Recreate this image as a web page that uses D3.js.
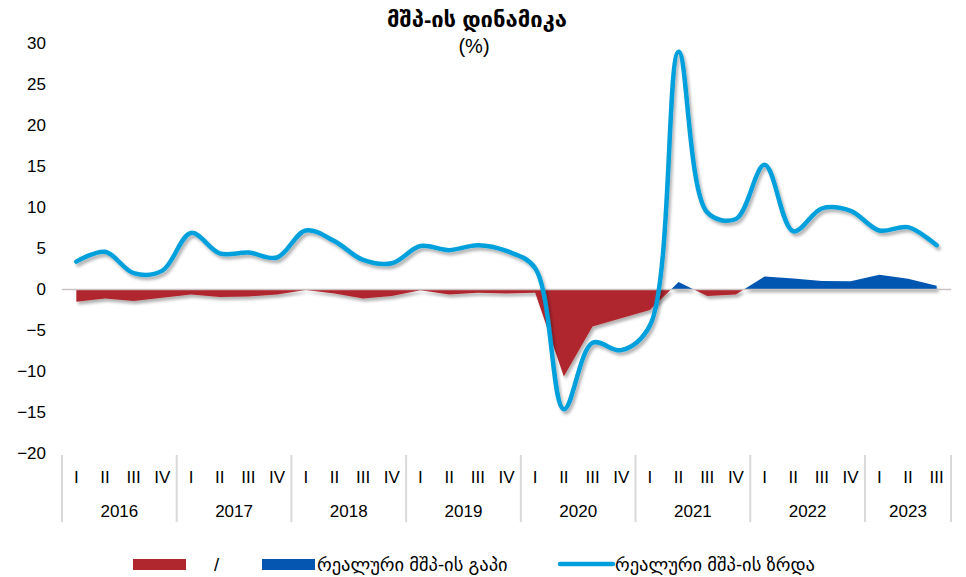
<!DOCTYPE html>
<html>
<head>
<meta charset="utf-8">
<script src="https://cdn.jsdelivr.net/npm/d3@7"></script>
<style>
  body { margin: 0; background: #fff; }
  text { font-family: "Liberation Sans", Arial, "DejaVu Sans", sans-serif; fill: #000; }
</style>
</head>
<body>
<script>
// quarters 2016 I .. 2023 III
const years = [2016, 2017, 2018, 2019, 2020, 2021, 2022, 2023]
const quarterNames = ["I", "II", "III", "IV"]
const yTicks = [-20, -15, -10, -5, 0, 5, 10, 15, 20, 25, 30]

// real GDP growth, %
const growth = [3.4, 4.6, 2.0, 2.3, 6.9, 4.4, 4.5, 3.9,
                7.2, 5.9, 3.6, 3.2, 5.3, 4.8, 5.4, 4.7,
                2.6, -14.6, -6.5, -7.4, -4.4, 29.0, 9.4, 8.6,
                15.2, 7.1, 9.9, 9.6, 7.2, 7.6, 5.4]

// real GDP gap, %
const gap = [-1.5, -1.1, -1.4, -1.0, -0.6, -0.9, -0.85, -0.6,
             -0.05, -0.5, -1.1, -0.8, -0.1, -0.6, -0.4, -0.5,
             -0.4, -10.6, -4.5, -3.5, -2.5, 0.9, -0.8, -0.6,
             1.6, 1.35, 1.05, 1.0, 1.8, 1.3, 0.45]

const legendItems = [
    { label: "/", color: "#b0272d", type: "area" },
    { label: "რეალური მშპ-ის გაპი", color: "#0556b0", type: "area" },
    { label: "რეალური მშპ-ის ზრდა", color: "#00a0dc", type: "line" }
]

const labels = []
years.forEach(function(yr) {
    quarterNames.forEach(function(q) {
        if (labels.length < growth.length) labels.push({ year: yr, q: q })
    })
})

const m = { width: 966, height: 577 }

const svg = d3.select("body").append("svg")
    .attr("width", m.width)
    .attr("height", m.height)

const defs = svg.append("defs")
const shadow = defs.append("filter").attr("id", "shadow")
    .attr("x", "-5%").attr("y", "-5%").attr("width", "110%").attr("height", "120%")
shadow.append("feDropShadow")
    .attr("dx", 2).attr("dy", 3).attr("stdDeviation", 1.8)
    .attr("flood-color", "#000").attr("flood-opacity", 0.3)

const x = d3.scaleBand()
    .domain(d3.range(growth.length))
    .range([62, 951])

const cx = function(i) { return x(i) + x.bandwidth() / 2 }

const y = d3.scaleLinear()
    .domain([-20, 30])
    .range([453.5, 43.5])

// title
svg.append("text")
    .attr("x", 477).attr("y", 27)
    .attr("text-anchor", "middle")
    .style("font-size", "22px").style("font-weight", "bold")
    .text("მშპ-ის დინამიკა")

svg.append("text")
    .attr("x", 474).attr("y", 53)
    .attr("text-anchor", "middle")
    .style("font-size", "20px")
    .text("(%)")

// y axis, labels only
const yAxis = svg.append("g")
    .attr("transform", "translate(46,0)")
    .call(d3.axisLeft(y).tickValues(yTicks).tickSize(0).tickPadding(0))
yAxis.select(".domain").remove()
yAxis.selectAll("text")
    .style("font-size", "17px")
    .style("font-family", "'Liberation Sans', Arial, sans-serif")

// gap areas, split at zero
const clipPos = defs.append("clipPath").attr("id", "clipPos")
clipPos.append("rect").attr("x", 0).attr("y", 0).attr("width", m.width).attr("height", y(0))
const clipNeg = defs.append("clipPath").attr("id", "clipNeg")
clipNeg.append("rect").attr("x", 0).attr("y", y(0)).attr("width", m.width).attr("height", m.height - y(0))

const gapArea = d3.area()
    .x(function(d, i) { return cx(i) })
    .y0(y(0))
    .y1(function(d) { return y(d) })

const areas = svg.append("g").attr("filter", "url(#shadow)")
areas.append("path")
    .datum(gap)
    .attr("clip-path", "url(#clipNeg)")
    .attr("fill", legendItems[0].color)
    .attr("d", gapArea)
areas.append("path")
    .datum(gap)
    .attr("clip-path", "url(#clipPos)")
    .attr("fill", legendItems[1].color)
    .attr("d", gapArea)

// zero line
svg.append("line")
    .attr("x1", 62).attr("x2", 951)
    .attr("y1", y(0)).attr("y2", y(0))
    .attr("stroke", "#c9c2c2").attr("stroke-width", 1.5)

// growth line
const growthLine = d3.line()
    .x(function(d, i) { return cx(i) })
    .y(function(d) { return y(d) })
    .curve(d3.curveCatmullRom.alpha(0.5))

svg.append("path")
    .datum(growth)
    .attr("fill", "none")
    .attr("stroke", legendItems[2].color)
    .attr("stroke-width", 4.5)
    .attr("stroke-linejoin", "round")
    .attr("stroke-linecap", "round")
    .attr("filter", "url(#shadow)")
    .attr("d", growthLine)

// x axis: quarters, years, separators
const xg = svg.append("g")

xg.selectAll(".q")
    .data(labels)
    .enter()
    .append("text")
        .attr("class", "q")
        .attr("x", function(d, i) { return cx(i) })
        .attr("y", 483)
        .attr("text-anchor", "middle")
        .style("font-size", "17px")
        .text(function(d) { return d.q })

const yearInfo = years.map(function(yr) {
    const idx = labels.map(function(d, i) { return d.year === yr ? i : -1 }).filter(function(i) { return i >= 0 })
    return { year: yr, first: idx[0], last: idx[idx.length - 1] }
})

xg.selectAll(".yr")
    .data(yearInfo)
    .enter()
    .append("text")
        .attr("class", "yr")
        .attr("x", function(d) { return (x(d.first) + x(d.last) + x.bandwidth()) / 2 })
        .attr("y", 517)
        .attr("text-anchor", "middle")
        .style("font-size", "17px")
        .text(function(d) { return d.year })

const seps = [x(0)].concat(yearInfo.map(function(d) { return x(d.last) + x.bandwidth() }))
xg.selectAll(".sep")
    .data(seps)
    .enter()
    .append("line")
        .attr("x1", function(d) { return d }).attr("x2", function(d) { return d })
        .attr("y1", 455).attr("y2", 522)
        .attr("stroke", "#d9d9d9").attr("stroke-width", 2)

// legend
const legendPos = [
    { sx: 133, tx: 214 },
    { sx: 262, tx: 317 },
    { sx: 560, tx: 615 }
]
const legend = svg.append("g")
legendItems.forEach(function(d, i) {
    const p = legendPos[i]
    if (d.type === "area") {
        legend.append("rect")
            .attr("x", p.sx).attr("y", 559)
            .attr("width", 53).attr("height", 11)
            .attr("fill", d.color)
    } else {
        legend.append("line")
            .attr("x1", p.sx).attr("x2", p.sx + 53)
            .attr("y1", 564).attr("y2", 564)
            .attr("stroke", d.color).attr("stroke-width", 4.5)
            .attr("stroke-linecap", "round")
    }
    legend.append("text")
        .attr("x", p.tx).attr("y", 571)
        .style("font-size", "18.5px")
        .text(d.label)
})
</script>
</body>
</html>
